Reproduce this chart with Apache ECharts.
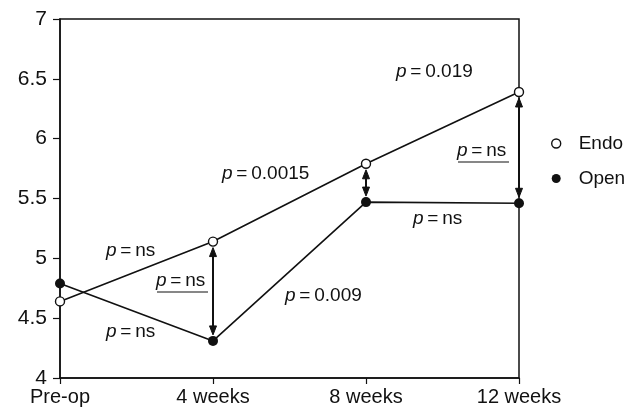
<!DOCTYPE html>
<html>
<head>
<meta charset="utf-8">
<script src="https://cdn.jsdelivr.net/npm/echarts@6/dist/echarts.min.js"></script>
<style>
  html, body { margin: 0; padding: 0; background: #fff; }
  #chart { width: 636px; height: 409px; }
</style>
</head>
<body>
<div id="chart"></div>
<script>
// Time points and group means
const categories = ['Pre-op', '4 weeks', '8 weeks', '12 weeks'];
const endoValues = [4.64, 5.14, 5.79, 6.39];
const openValues = [4.79, 4.31, 5.47, 5.46];

// Time points where the two groups are compared directly (index into categories)
const comparedAt = [1, 2, 3];

// p-values written on the chart
const pWithinEndo = ['ns', '0.0015', '0.019'];   // along the Endo line
const pWithinOpen = ['ns', '0.009', 'ns'];       // along the Open line
const pBetween = ['ns', 'ns'];                   // underlined, beside the 4 and 12 week arrows

const FONT = 'Liberation Sans, Arial, Helvetica, sans-serif';
const ANNOT_SIZE = 19;
const chart = echarts.init(document.getElementById('chart'), null, { renderer: 'canvas' });

const GRID = { left: 60, right: 117, top: 19, bottom: 31 };

function pText(v) {
  return '{i|p}\u2009=\u2009' + v;
}

// Label placement (pixel anchors: left x, middle y)
const labelSpots = {
  endo: [[106, 252], [222, 175], [396, 73]],
  open: [[106, 333], [285, 297], [413, 220]],
  between: [[156, 282], [457, 152]]
};

function textEl(txt, x, y) {
  return {
    type: 'text', left: x, top: y - ANNOT_SIZE / 2 - 1, z: 10,
    style: {
      text: txt, fill: '#111', font: ANNOT_SIZE + 'px ' + FONT,
      rich: { i: { fontStyle: 'italic', fontSize: ANNOT_SIZE, fontFamily: FONT, fill: '#111' } }
    }
  };
}

const graphics = [];
pWithinEndo.forEach((v, i) => graphics.push(textEl(pText(v), labelSpots.endo[i][0], labelSpots.endo[i][1])));
pWithinOpen.forEach((v, i) => graphics.push(textEl(pText(v), labelSpots.open[i][0], labelSpots.open[i][1])));
pBetween.forEach((v, i) => {
  const [x, y] = labelSpots.between[i];
  graphics.push(textEl(pText(v), x, y));
  graphics.push({
    type: 'line', z: 10,
    shape: { x1: x + 1, y1: y + 10, x2: x + 52, y2: y + 10 },
    style: { stroke: '#111', lineWidth: 1.2 }
  });
});

// Double-headed vertical arrow between the two group means
function renderArrow(params, api) {
  const x = api.value(0);
  const pTop = api.coord([x, api.value(1)]);
  const pBot = api.coord([x, api.value(2)]);
  const cx = pTop[0];
  const gap = 6, head = 9, half = 3.5;
  const y1 = pTop[1] + gap;
  const y2 = pBot[1] - gap;
  const style = { fill: '#111', stroke: '#111' };
  return {
    type: 'group',
    children: [
      { type: 'line', shape: { x1: cx, y1: y1 + head - 1, x2: cx, y2: y2 - head + 1 },
        style: { stroke: '#111', lineWidth: 2 } },
      { type: 'polygon', shape: { points: [[cx, y1], [cx - half, y1 + head], [cx + half, y1 + head]] }, style },
      { type: 'polygon', shape: { points: [[cx, y2], [cx - half, y2 - head], [cx + half, y2 - head]] }, style }
    ]
  };
}

const option = {
  animation: false,
  backgroundColor: '#fff',
  textStyle: { fontFamily: FONT },
  grid: Object.assign({ show: true, borderColor: '#111', borderWidth: 1.5, backgroundColor: 'transparent' }, GRID),
  legend: {
    orient: 'vertical',
    left: 546, top: 129,
    itemWidth: 9, itemHeight: 9, itemGap: 16,
    textStyle: { fontSize: 19, color: '#111', fontFamily: FONT, padding: [0, 0, 0, 13] },
    data: [
      { name: 'Endo', icon: 'circle', itemStyle: { color: '#fff', borderColor: '#111', borderWidth: 1.4 } },
      { name: 'Open', icon: 'circle', itemStyle: { color: '#111', borderWidth: 0 } }
    ]
  },
  xAxis: {
    type: 'category',
    data: categories,
    boundaryGap: false,
    axisLine: { lineStyle: { color: '#111', width: 1.5 } },
    axisTick: { show: true, alignWithLabel: true, length: 6, lineStyle: { color: '#111', width: 1.2 } },
    axisLabel: { color: '#111', fontSize: 20, margin: 9, fontFamily: FONT },
    splitLine: { show: false }
  },
  yAxis: {
    type: 'value',
    min: 4, max: 7, interval: 0.5,
    axisLine: { show: true, lineStyle: { color: '#111', width: 1.5 } },
    axisTick: { show: true, length: 7, lineStyle: { color: '#111', width: 1.2 } },
    axisLabel: { color: '#111', fontSize: 21, margin: 13, fontFamily: FONT },
    splitLine: { show: false }
  },
  series: [
    {
      name: 'Endo', type: 'line', data: endoValues,
      symbol: 'circle', symbolSize: 9, showAllSymbol: true,
      lineStyle: { color: '#111', width: 1.6 },
      itemStyle: { color: '#fff', borderColor: '#111', borderWidth: 1.4 },
      z: 3
    },
    {
      name: 'Open', type: 'line', data: openValues,
      symbol: 'circle', symbolSize: 10, showAllSymbol: true,
      lineStyle: { color: '#111', width: 1.6 },
      itemStyle: { color: '#111' },
      z: 3
    },
    {
      type: 'custom', name: 'diff', silent: true,
      renderItem: renderArrow,
      data: comparedAt.map(i => [i, endoValues[i], openValues[i]]),
      z: 2
    }
  ],
  graphic: graphics
};

chart.setOption(option);
</script>
</body>
</html>
